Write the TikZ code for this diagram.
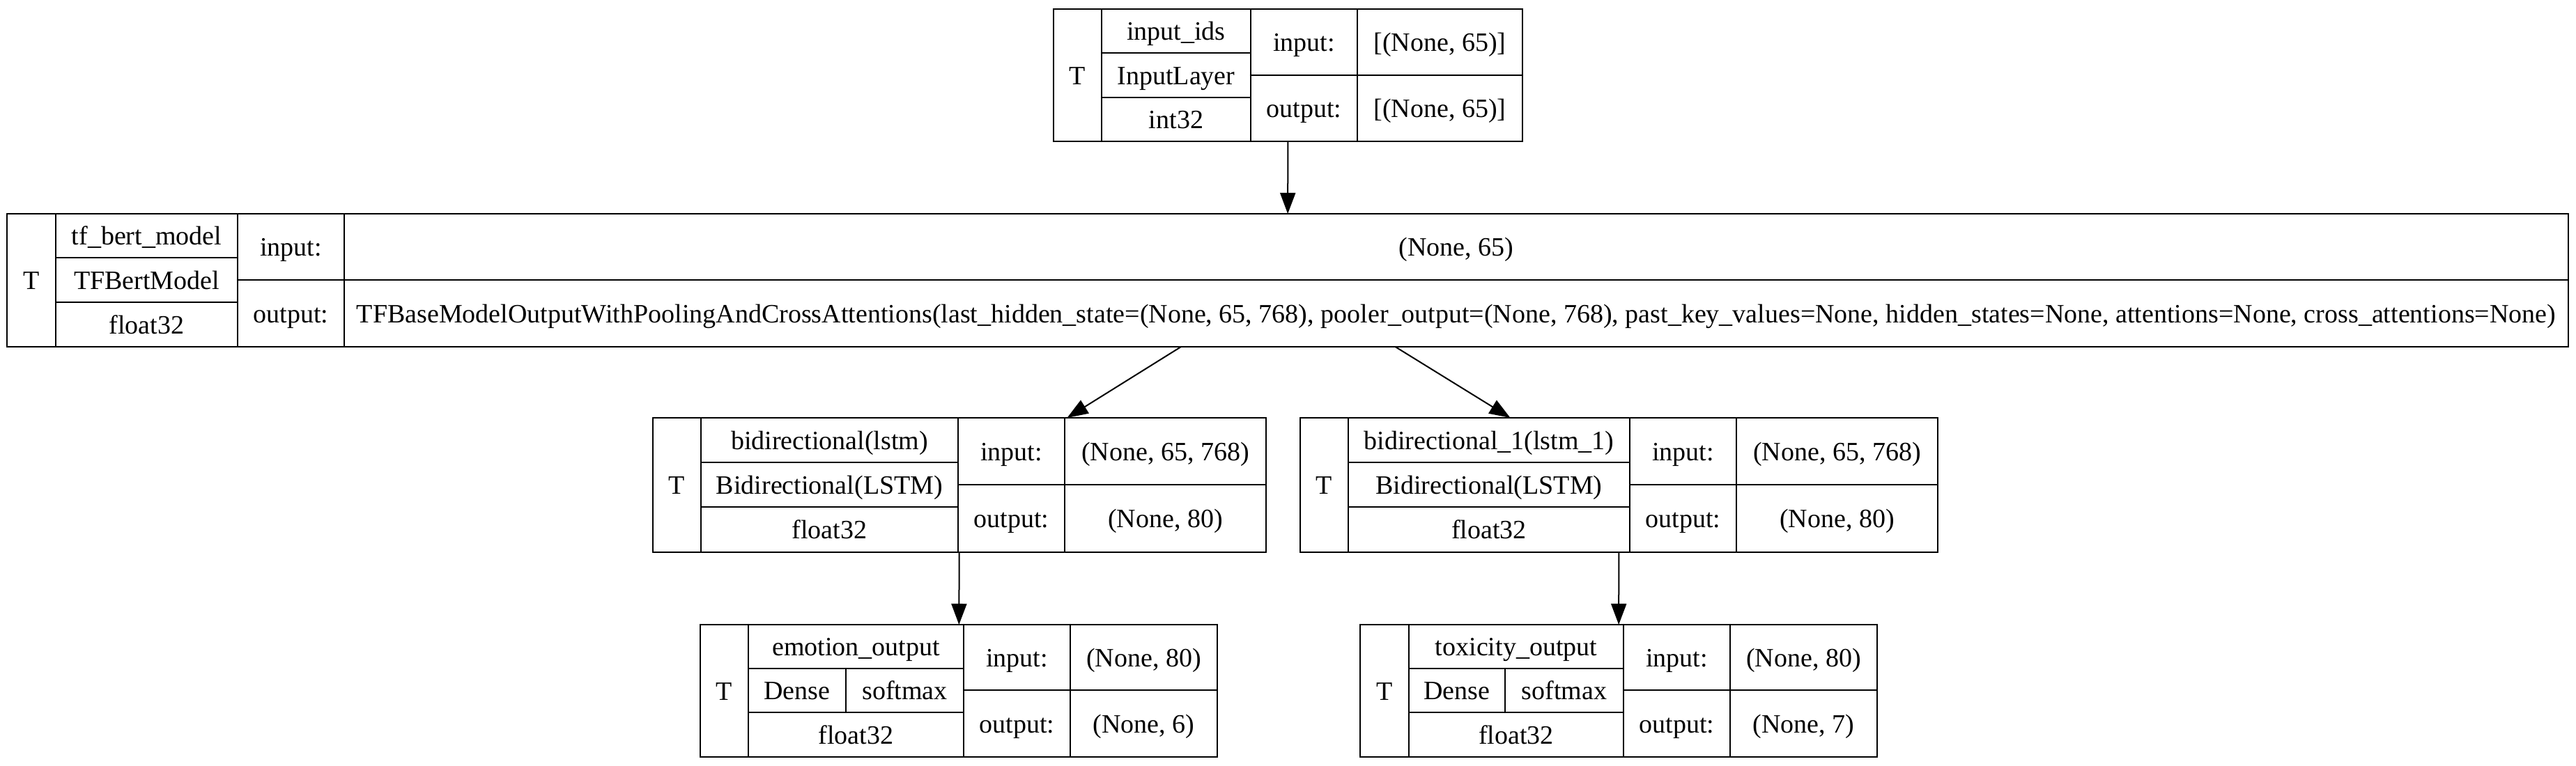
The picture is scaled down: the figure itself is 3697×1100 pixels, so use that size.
\documentclass[tikz,border=0pt]{standalone}
\usepackage{fontspec}
\setmainfont{Liberation Serif}
\usetikzlibrary{arrows.meta}
\begin{document}
\begin{tikzpicture}[x=0.2pt,y=-0.2pt,
    font=\fontsize{7.6}{9}\selectfont,
    cell/.style n args={4}{draw,line width=0.5pt,
            at={(#1,#2)},anchor=north west,
            inner sep=0pt,outer sep=0pt,
            text height=0.8em,text depth=0.27em,
            minimum width={(#3-#1)*0.2pt},
            minimum height={(#4-#2)*0.2pt}},
    record/.style n args={4}{cell={#1}{#2}{#3}{#4},draw=none},
    link/.style={line width=0.4pt,-{Triangle[length=6pt,width=4.4pt]}}]
    \useasboundingbox (0,0) rectangle (3697,1100);
    % input layer
    \node[record={1512}{13}{2185}{203}] (input) {};
    \node[cell={1512}{13}{1581}{203}] (input-T) {T};
    \node[cell={1581}{13}{1795}{76}] (input-name) {input\_ids};
    \node[cell={1581}{76}{1795}{140}] (input-class) {InputLayer};
    \node[cell={1581}{140}{1795}{203}] (input-dtype) {int32};
    \node[cell={1795}{13}{1948}{108}] (input-in) {input:};
    \node[cell={1795}{108}{1948}{203}] (input-out) {output:};
    \node[cell={1948}{13}{2185}{108}] (input-inval) {[(None, 65)]};
    \node[cell={1948}{108}{2185}{203}] (input-outval) {[(None, 65)]};
    % bert
    \node[record={10}{307}{3686}{498}] (bert) {};
    \node[cell={10}{307}{80}{498}] (bert-T) {T};
    \node[cell={80}{307}{341}{370}] (bert-name) {tf\_bert\_model};
    \node[cell={80}{370}{341}{434}] (bert-class) {TFBertModel};
    \node[cell={80}{434}{341}{498}] (bert-dtype) {float32};
    \node[cell={341}{307}{494}{402}] (bert-in) {input:};
    \node[cell={341}{402}{494}{498}] (bert-out) {output:};
    \node[cell={494}{307}{3686}{402}] (bert-inval) {(None, 65)};
    \node[cell={494}{402}{3686}{498}] (bert-outval) {TFBaseModelOutputWithPoolingAndCrossAttentions(last\_hidden\_state=(None, 65, 768), pooler\_output=(None, 768), past\_key\_values=None, hidden\_states=None, attentions=None, cross\_attentions=None)};
    % lstm layers
    \foreach \N/\a/\b/\c/\d/\e/\name in
       {lstm/937/1006/1375/1528/1817/bidirectional(lstm),
        lstmone/1866/1935/2339/2492/2781/bidirectional\_1(lstm\_1)}{
       \node[record={\a}{600}{\e}{793}] (\N) {};
       \node[cell={\a}{600}{\b}{793}] (\N-T) {T};
       \node[cell={\b}{600}{\c}{664}] (\N-name) {\name};
       \node[cell={\b}{664}{\c}{728}] (\N-class) {Bidirectional(LSTM)};
       \node[cell={\b}{728}{\c}{793}] (\N-dtype) {float32};
       \node[cell={\c}{600}{\d}{696}] (\N-in) {input:};
       \node[cell={\c}{696}{\d}{793}] (\N-out) {output:};
       \node[cell={\d}{600}{\e}{696}] (\N-inval) {(None, 65, 768)};
       \node[cell={\d}{696}{\e}{793}] (\N-outval) {(None, 80)};
    }
    % output layers
    \foreach \N/\a/\b/\s/\c/\d/\e/\name/\k in
       {emotion/1005/1074/1214/1383/1536/1747/emotion\_output/6,
        toxicity/1952/2022/2160/2330/2483/2694/toxicity\_output/7}{
       \node[record={\a}{897}{\e}{1087}] (\N) {};
       \node[cell={\a}{897}{\b}{1087}] (\N-T) {T};
       \node[cell={\b}{897}{\c}{960}] (\N-name) {\name};
       \node[cell={\b}{960}{\s}{1023}] (\N-class) {Dense};
       \node[cell={\s}{960}{\c}{1023}] (\N-act) {softmax};
       \node[cell={\b}{1023}{\c}{1087}] (\N-dtype) {float32};
       \node[cell={\c}{897}{\d}{991}] (\N-in) {input:};
       \node[cell={\c}{991}{\d}{1087}] (\N-out) {output:};
       \node[cell={\d}{897}{\e}{991}] (\N-inval) {(None, 80)};
       \node[cell={\d}{991}{\e}{1087}] (\N-outval) {(None, \k)};
    }
    \draw[link] (input) -- (bert);
    \draw[link] (bert) -- (lstm);
    \draw[link] (bert) -- (lstmone);
    \draw[link] (lstm) -- (emotion);
    \draw[link] (lstmone) -- (toxicity);
\end{tikzpicture}
\end{document}
